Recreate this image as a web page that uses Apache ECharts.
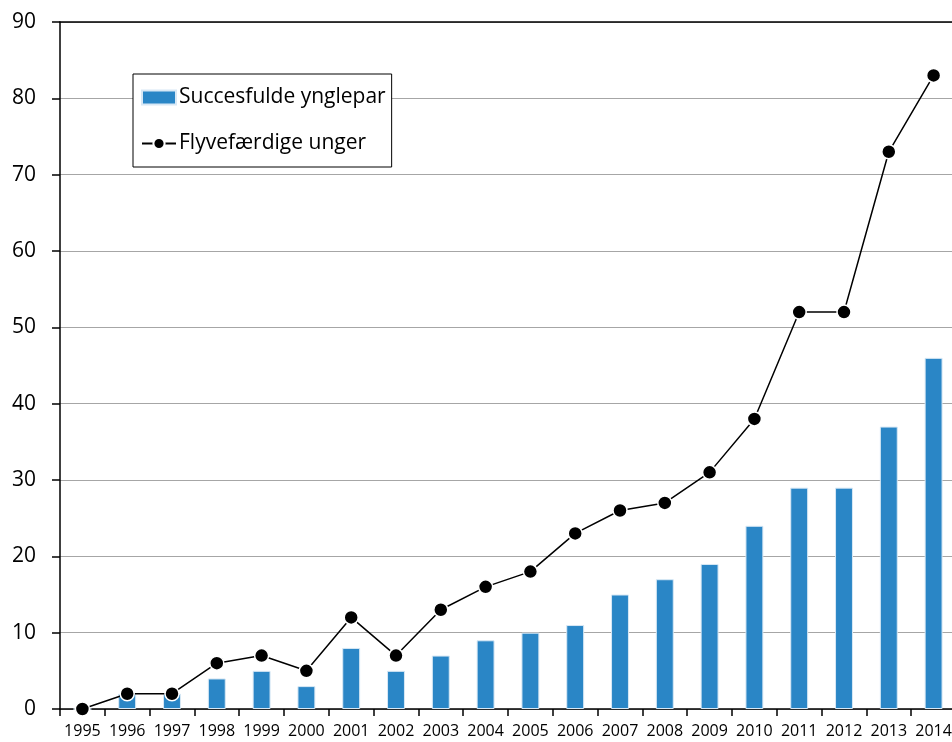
<!DOCTYPE html>
<html>
<head>
<meta charset="utf-8">
<script src="https://cdn.jsdelivr.net/npm/echarts@6/dist/echarts.min.js"></script>
<style>html,body{margin:0;padding:0;background:#fff;overflow:hidden;width:952px;height:742px}#c{width:960px;height:742px}</style>
</head>
<body>
<div id="c"></div>
<script>
var years = ['1995','1996','1997','1998','1999','2000','2001','2002','2003','2004','2005','2006','2007','2008','2009','2010','2011','2012','2013','2014'];
var pairs = [0,2,2,4,5,3,8,5,7,9,10,11,15,17,19,24,29,29,37,46];
var chicks = [0,2,2,6,7,5,12,7,13,16,18,23,26,27,31,38,52,52,73,83];
var yTicks = {min:0, max:90, interval:10};

var font = '"Open Sans", "Liberation Sans", sans-serif';
var chart = echarts.init(document.getElementById('c'), null, {renderer:'canvas'});
chart.setOption({
  animation:false,
  backgroundColor:'#fff',
  textStyle:{fontFamily:font},
  grid:{left:60, top:22, width:896, bottom:33, containLabel:false},
  legend:{
    orient:'vertical', left:133, top:74,
    padding:[13,6,13,8],
    borderColor:'#000', borderWidth:1, backgroundColor:'#fff',
    itemWidth:34, itemHeight:14, itemGap:25,
    textStyle:{fontFamily:font, fontSize:21, color:'#000', padding:[0,0,0,-2]},
    data:[{name:'Succesfulde ynglepar', icon:'rect'},{name:'Flyvefærdige unger'}]
  },
  xAxis:[{
    type:'category', data:years, boundaryGap:true,
    axisLine:{lineStyle:{color:'#000', width:1.5}},
    axisTick:{show:true, length:7, lineStyle:{color:'#000', width:1.5}, alignWithLabel:false},
    axisLabel:{fontFamily:font, fontSize:16, color:'#000', margin:14, interval:0}
  },{
    type:'category', data:years, position:'top',
    axisLine:{lineStyle:{color:'#000', width:1.5}},
    axisTick:{show:false}, axisLabel:{show:false}
  }],
  yAxis:{
    type:'value', min:yTicks.min, max:yTicks.max, interval:yTicks.interval,
    axisLine:{show:true, lineStyle:{color:'#000', width:1.5}},
    axisTick:{show:true, length:8, lineStyle:{color:'#000', width:1.5}},
    axisLabel:{fontFamily:font, fontSize:21, color:'#000', margin:24},
    splitLine:{show:true, lineStyle:{color:'#a6a6a6', width:1}}
  },
  series:[{
    name:'Succesfulde ynglepar', type:'bar', data:pairs, barWidth:'40%',
    itemStyle:{color:'#2a86c6', borderColor:'#d8e8f5', borderWidth:1}
  },{
    name:'Flyvefærdige unger', type:'line', data:chicks,
    symbol:'circle', symbolSize:14,
    lineStyle:{color:'#000', width:1.5},
    itemStyle:{color:'#000', borderColor:'#fff', borderWidth:1.5}
  }]
});
</script>
</body>
</html>
